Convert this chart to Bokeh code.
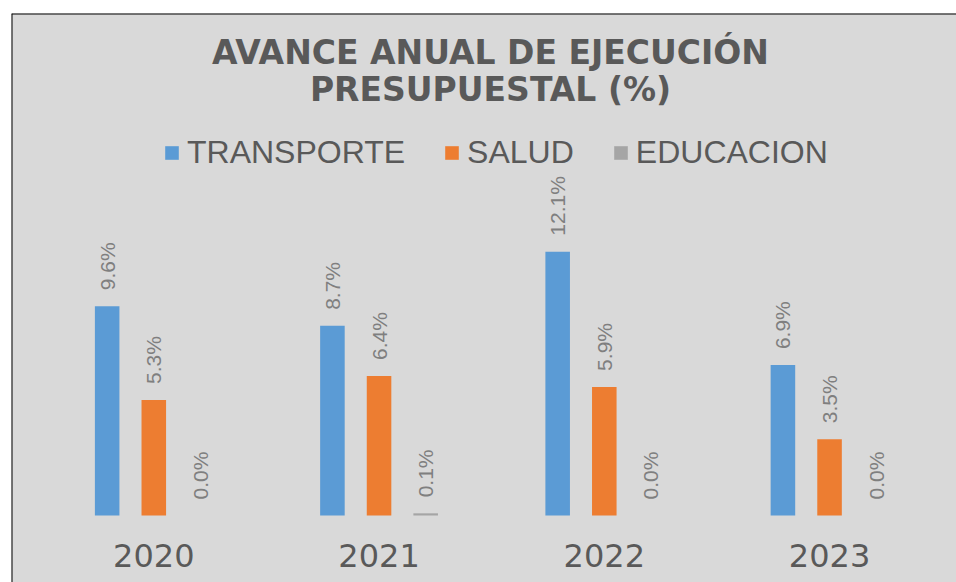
import math
from bokeh.plotting import figure
from bokeh.models import ColumnDataSource, Legend, LegendItem, Label, Span, Range1d
from bokeh.transform import dodge
from bokeh.core.properties import value
from bokeh.embed import file_html
from bokeh.resources import INLINE

# ---- data ----
years = ["2020", "2021", "2022", "2023"]
transporte = [9.6, 8.7, 12.1, 6.9]
salud = [5.3, 6.4, 5.9, 3.5]
educacion = [0.0, 0.1, 0.0, 0.0]
series_names = ["TRANSPORTE", "SALUD", "EDUCACION"]
series_colors = ["#5B9BD5", "#ED7D31", "#A5A5A5"]
title_line1 = "AVANCE ANUAL DE EJECUCIÓN"
title_line2 = "PRESUPUESTAL (%)"

series_values = [transporte, salud, educacion]
offsets = [-0.207, 0.0, 0.207]

data = dict(year=years, xi=list(range(len(years))))
for name, vals in zip(series_names, series_values):
    data[name] = vals
    data[name + "_lbl"] = [f"{v:.1f}%" for v in vals]
src = ColumnDataSource(data)

BG = "#D9D9D9"
PX_PER_UNIT = 21.8
x_range = Range1d(-0.6317, 3.5636)
y_range = Range1d(-67 / PX_PER_UNIT, 502 / PX_PER_UNIT)

p = figure(x_range=x_range, y_range=y_range,
           width=956, height=582, output_backend="svg", toolbar_location=None,
           min_border_left=11, min_border_right=0, min_border_top=13, min_border_bottom=0,
           background_fill_color=BG, border_fill_color="white", outline_line_color=None)
p.axis.visible = False
p.grid.grid_line_color = None

# chart-area border (left and top edges)
p.add_layout(Span(location=x_range.start, dimension="height", line_color="black", line_width=2))
p.add_layout(Span(location=y_range.end, dimension="width", line_color="black", line_width=2))

items = []
for name, color, off in zip(series_names, series_colors, offsets):
    xs = dodge("xi", off)
    r = p.vbar(x=xs, top=name, width=0.109, source=src, fill_color=color, line_color=None)
    p.text(x=xs, y=name, text=name + "_lbl", source=src, angle=math.pi / 2,
           text_align="left", text_baseline="middle", y_offset=-16,
           text_font=value("Liberation Sans"), text_font_size="21px",
           text_color="#7F7F7F")
    items.append(LegendItem(label=name, renderers=[r]))

# category (year) labels under the groups
p.text(x="xi", y=-40 / PX_PER_UNIT, text="year", source=src,
       text_align="center", text_baseline="middle",
       text_font=value("DejaVu Sans"), text_font_size="32px", text_color="#595959")

legend = Legend(items=items, orientation="horizontal", location=(152, 411),
                glyph_width=17, glyph_height=17, label_standoff=7, spacing=38,
                padding=0, margin=0, border_line_color=None, background_fill_alpha=0,
                label_text_font="Liberation Sans", label_text_font_size="32px",
                label_text_color="#595959")
p.add_layout(legend, "center")

for txt, yy in [(title_line1, 529.7), (title_line2, 493)]:
    p.add_layout(Label(x=479, y=yy, x_units="screen", y_units="screen", text=txt,
                       text_align="center", text_baseline="middle",
                       text_font="DejaVu Sans", text_font_style="bold",
                       text_font_size="33px", text_color="#595959"))

open("out.html", "w").write(file_html(p, INLINE))
